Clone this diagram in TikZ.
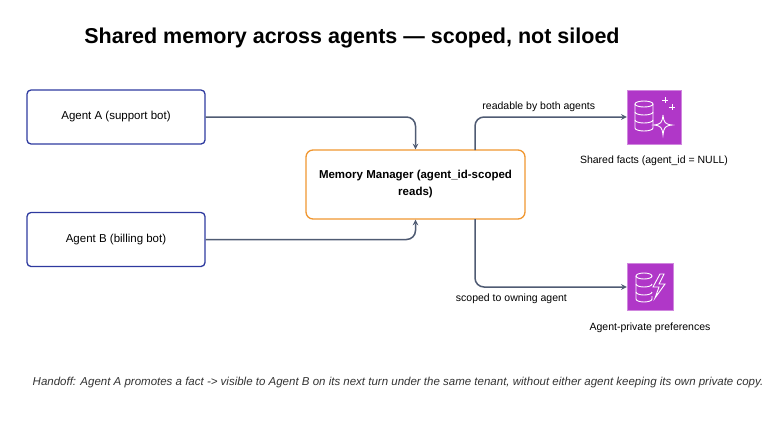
\documentclass[tikz,border=0pt]{standalone}
\usepackage{fontspec}
\setmainfont{Liberation Sans}
\usetikzlibrary{positioning}
\definecolor{agentblue}{HTML}{2E3A9F}
\definecolor{mgrorange}{HTML}{F0962F}
\definecolor{flowgray}{HTML}{4F5B73}
\definecolor{iconpurple}{HTML}{B037C8}
\tikzset{
  agentbox/.style={draw=agentblue, line width=1.3pt, rounded corners=4pt, minimum width=178pt, minimum height=54pt, font=\fontsize{11.5}{14}\selectfont},
  mgrbox/.style={draw=mgrorange, line width=1.3pt, rounded corners=7pt, minimum width=219pt, minimum height=69pt, align=center, font=\bfseries\fontsize{11.5}{17}\selectfont},
  flow/.style={draw=flowgray, line width=1.5pt, rounded corners=9pt, -stealth},
  icon/.style={fill=iconpurple, draw=iconpurple!60!white, inner sep=0pt},
  lbl/.style={font=\fontsize{10.5}{12}\selectfont}
}
\begin{document}
\begin{tikzpicture}[x=1pt,y=-1pt]
\useasboundingbox (0,0) rectangle (766,426);
\node[font=\bfseries\fontsize{21.5}{26}\selectfont] (title) at (352,38) {Shared memory across agents — scoped, not siloed};

\node[agentbox] (agA) at (116,117) {Agent A (support bot)};
\node[agentbox] (agB) at (116,239.5) {Agent B (billing bot)};
\node[mgrbox] (mgr) at (415.5,184.5) {Memory Manager (agent\_id-scoped\\reads)};

% icons
\node[icon, minimum width=54pt, minimum height=54pt] (shared) at (654,117) {};
\node[icon, minimum width=46pt, minimum height=47pt] (priv) at (650,287) {};
\begin{scope}[draw=white, line width=0.9pt]
  \draw (644,104) ellipse (9pt and 3pt);
  \draw (635,104) -- (635,128) arc (180:360:9pt and 3pt) -- (653,104);
  \draw (635,112) arc (180:360:9pt and 3pt);
  \draw (635,120) arc (180:360:9pt and 3pt);
  \draw (663,115) .. controls (664,123) and (665,124) .. (672,125) .. controls (665,126) and (664,127) .. (663,135) .. controls (662,127) and (661,126) .. (654,125) .. controls (661,124) and (662,123) .. (663,115);
  \draw (665,97) -- (665,103) (662,100) -- (668,100);
  \draw (672,104) -- (672,110) (669,107) -- (675,107);
  \draw (644,276) ellipse (8pt and 3pt);
  \draw (636,276) -- (636,299) arc (180:360:8pt and 3pt) -- (652,296);
  \draw (636,284) arc (180:360:8pt and 3pt);
  \draw (636,292) arc (180:360:8pt and 3pt);
  \draw (660,274) -- (653,287) -- (659,287) -- (655,298) -- (665,284) -- (659,284) -- (664,274) -- cycle;
\end{scope}
\node[lbl, below=8pt of shared] (sharedlbl) {Shared facts (agent\_id = NULL)};
\node[lbl, below=9pt of priv] (privlbl) {Agent-private preferences};

% connectors
\draw[flow] (agA.east) -| (mgr.north);
\draw[flow] (agB.east) -| (mgr.south);
\coordinate (mtop) at (475,150);
\coordinate (mbot) at (475,219);
\draw[flow] (mtop) |- (shared.west) node[lbl, pos=0.71, above=1pt] {readable by both agents};
\draw[flow] (mbot) |- (priv.west) node[lbl, pos=0.62, below=3pt] {scoped to owning agent};

\node[font=\itshape\fontsize{11.5}{13}\selectfont, text=black!80] (note) at (398,383) {Handoff: Agent A promotes a fact -> visible to Agent B on its next turn under the same tenant, without either agent keeping its own private copy.};
\end{tikzpicture}
\end{document}
